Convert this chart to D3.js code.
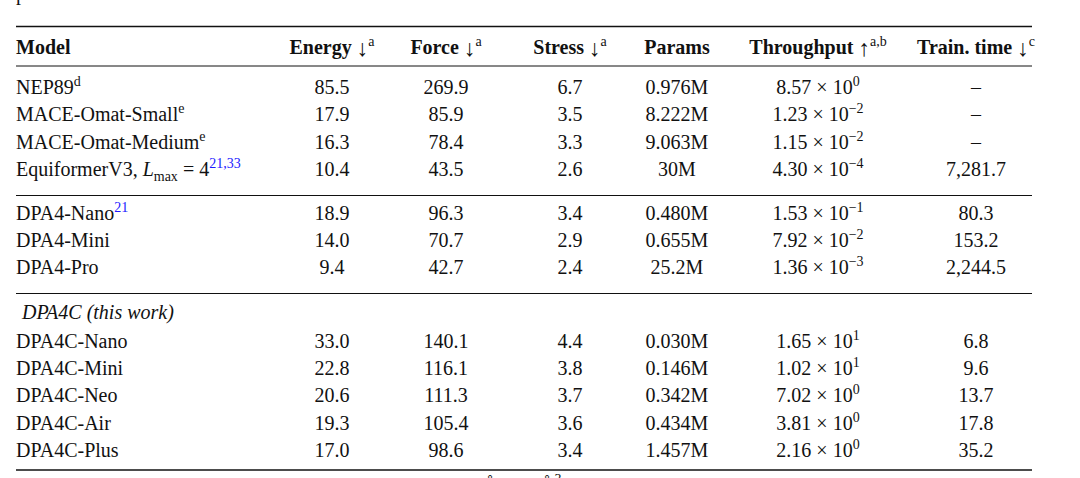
<!DOCTYPE html>
<html>
<head>
<meta charset="utf-8">
<script src="https://cdn.jsdelivr.net/npm/d3@7"></script>
<style>
  body { margin: 0; background: #fff; }
  svg { display: block; font-family: "Liberation Serif", "DejaVu Serif", serif; }
</style>
</head>
<body>
<div id="table"></div>
<script>
// ---- data ----
const headers = ["Model", "Energy", "Force", "Stress", "Params", "Throughput", "Train. time"];
const headerArrows = ["", "↓", "↓", "↓", "", "↑", "↓"];
const headerNotes = ["", "a", "a", "a", "", "a,b", "c"];

const models = [
  "NEP89", "MACE-Omat-Small", "MACE-Omat-Medium", "EquiformerV3, <i>L</i><sub>max</sub> = 4",
  "DPA4-Nano", "DPA4-Mini", "DPA4-Pro",
  "DPA4C-Nano", "DPA4C-Mini", "DPA4C-Neo", "DPA4C-Air", "DPA4C-Plus"
];
const modelNotes = ["d", "e", "e", "21,33", "21", "", "", "", "", "", "", ""];
const noteIsCite = [false, false, false, true, true, false, false, false, false, false, false, false];
const groups = [0, 0, 0, 0, 1, 1, 1, 2, 2, 2, 2, 2];
const groupLabels = ["", "", "DPA4C (this work)"];

const energy = [85.5, 17.9, 16.3, 10.4, 18.9, 14.0, 9.4, 33.0, 22.8, 20.6, 19.3, 17.0];
const force = [269.9, 85.9, 78.4, 43.5, 96.3, 70.7, 42.7, 140.1, 116.1, 111.3, 105.4, 98.6];
const stress = [6.7, 3.5, 3.3, 2.6, 3.4, 2.9, 2.4, 4.4, 3.8, 3.7, 3.6, 3.4];
const params = ["0.976M", "8.222M", "9.063M", "30M", "0.480M", "0.655M", "25.2M",
  "0.030M", "0.146M", "0.342M", "0.434M", "1.457M"];
const throughputMantissa = [8.57, 1.23, 1.15, 4.30, 1.53, 7.92, 1.36, 1.65, 1.02, 7.02, 3.81, 2.16];
const throughputExp = [0, -2, -2, -4, -1, -2, -3, 1, 1, 0, 0, 0];
const trainTime = [null, null, null, 7281.7, 80.3, 153.2, 2244.5, 6.8, 9.6, 13.7, 17.8, 35.2];

// ---- layout ----
const W = 1080, H = 478;
const left = 16, right = 1032;
const fontSize = 20, supSize = 14;
const colX = d3.scaleOrdinal().domain(d3.range(7)).range([left, 332, 446, 570, 677, 818, 976]);
const y = d3.scaleLinear().domain([0, 1]).range([87, 114.3]);   // row slot -> centre y

const fmt1 = d3.format(".1f");
const fmtTime = d3.format(",.1f");
const minus = s => String(s).replace("-", "\u2212");

// slot positions for each row, with a gap between groups
const rowSlot = [], labelSlot = {}, ruleSlot = [];
let slot = 0;
groups.forEach((g, i) => {
  if (i > 0 && g !== groups[i - 1]) {
    ruleSlot.push(slot + 0.95);
    slot += 1.6;
    if (groupLabels[g]) { labelSlot[g] = slot + 0.05; slot += 1.1; }
  } else if (i > 0) slot += 1;
  rowSlot.push(slot);
});

const svg = d3.select("#table").append("svg")
  .attr("width", W).attr("height", H)
  .attr("viewBox", `0 0 ${W} ${H}`);

// append text with inline markup: <i>..</i>, <sub>..</sub>
function richText(sel, str) {
  const parts = str.split(/(<i>.*?<\/i>|<sub>.*?<\/sub>)/).filter(p => p);
  let shift = 0;
  parts.forEach(p => {
    let m;
    if ((m = p.match(/^<i>(.*)<\/i>$/))) {
      sel.append("tspan").attr("dy", -shift).attr("font-style", "italic").text(m[1]);
      shift = 0;
    } else if ((m = p.match(/^<sub>(.*)<\/sub>$/))) {
      sel.append("tspan").attr("dy", 5 - shift).attr("font-size", supSize).text(m[1]);
      shift = 5;
    } else {
      sel.append("tspan").attr("dy", -shift).text(p);
      shift = 0;
    }
  });
  return shift;
}

function sup(sel, str, shift, color) {
  sel.append("tspan").attr("dy", -8 - shift).attr("font-size", supSize)
    .attr("font-weight", "normal")
    .attr("fill", color || "#111").text(str);
}

// ---- rules ----
const rule = (yy, w) => svg.append("line")
  .attr("x1", left).attr("x2", right).attr("y1", yy).attr("y2", yy)
  .attr("stroke", "#111").attr("stroke-width", w);

rule(26.5, 1.6);
rule(66, 1);
ruleSlot.forEach(s => rule(Math.round(y(s)) + 0.5, 1));
rule(470, 1.6);

// ---- header ----
headers.forEach((h, c) => {
  const t = svg.append("text")
    .attr("x", colX(c)).attr("y", 47 + 7)
    .attr("font-size", fontSize).attr("font-weight", "bold")
    .attr("fill", "#111")
    .attr("text-anchor", c === 0 ? "start" : "middle");
  t.append("tspan").text(h);
  let shift = 0;
  if (headerArrows[c]) {
    t.append("tspan").text(" ");
    t.append("tspan").attr("dy", 2).attr("font-size", 23).attr("font-weight", "normal")
      .text(headerArrows[c]);
    shift = 2;
  }
  if (headerNotes[c]) sup(t, headerNotes[c], shift);
});

// ---- group labels ----
Object.keys(labelSlot).forEach(g => {
  svg.append("text")
    .attr("x", left + 6).attr("y", y(labelSlot[g]) + 7)
    .attr("font-size", fontSize).attr("font-style", "italic").attr("fill", "#111")
    .text(groupLabels[g]);
});

// ---- body rows ----
models.forEach((m, i) => {
  const cy = y(rowSlot[i]) + 7;
  const cell = (c) => svg.append("text")
    .attr("x", colX(c)).attr("y", cy)
    .attr("font-size", fontSize).attr("fill", "#111")
    .attr("text-anchor", c === 0 ? "start" : "middle");

  const name = cell(0);
  const shift = richText(name, m);
  if (modelNotes[i]) sup(name, modelNotes[i], shift, noteIsCite[i] ? "#1a1aff" : "#111");

  cell(1).text(fmt1(energy[i]));
  cell(2).text(fmt1(force[i]));
  cell(3).text(fmt1(stress[i]));
  cell(4).text(params[i]);

  const tp = cell(5);
  tp.append("tspan").text(`${throughputMantissa[i].toFixed(2)} \u00d7 10`);
  sup(tp, minus(throughputExp[i]), 0);

  cell(6).text(trainTime[i] == null ? "\u2013" : fmtTime(trainTime[i]));
});

// ---- cut-off caption fragments at the edges ----
svg.append("text").attr("x", left).attr("y", -0.5)
  .attr("font-size", fontSize).attr("fill", "#111").text("p");
const foot = svg.append("text").attr("x", 483).attr("y", 492)
  .attr("font-size", fontSize).attr("fill", "#111");
foot.append("tspan").text("Å");
foot.append("tspan").attr("x", 540).text("Å");
sup(foot, "3", 0);
</script>
</body>
</html>
